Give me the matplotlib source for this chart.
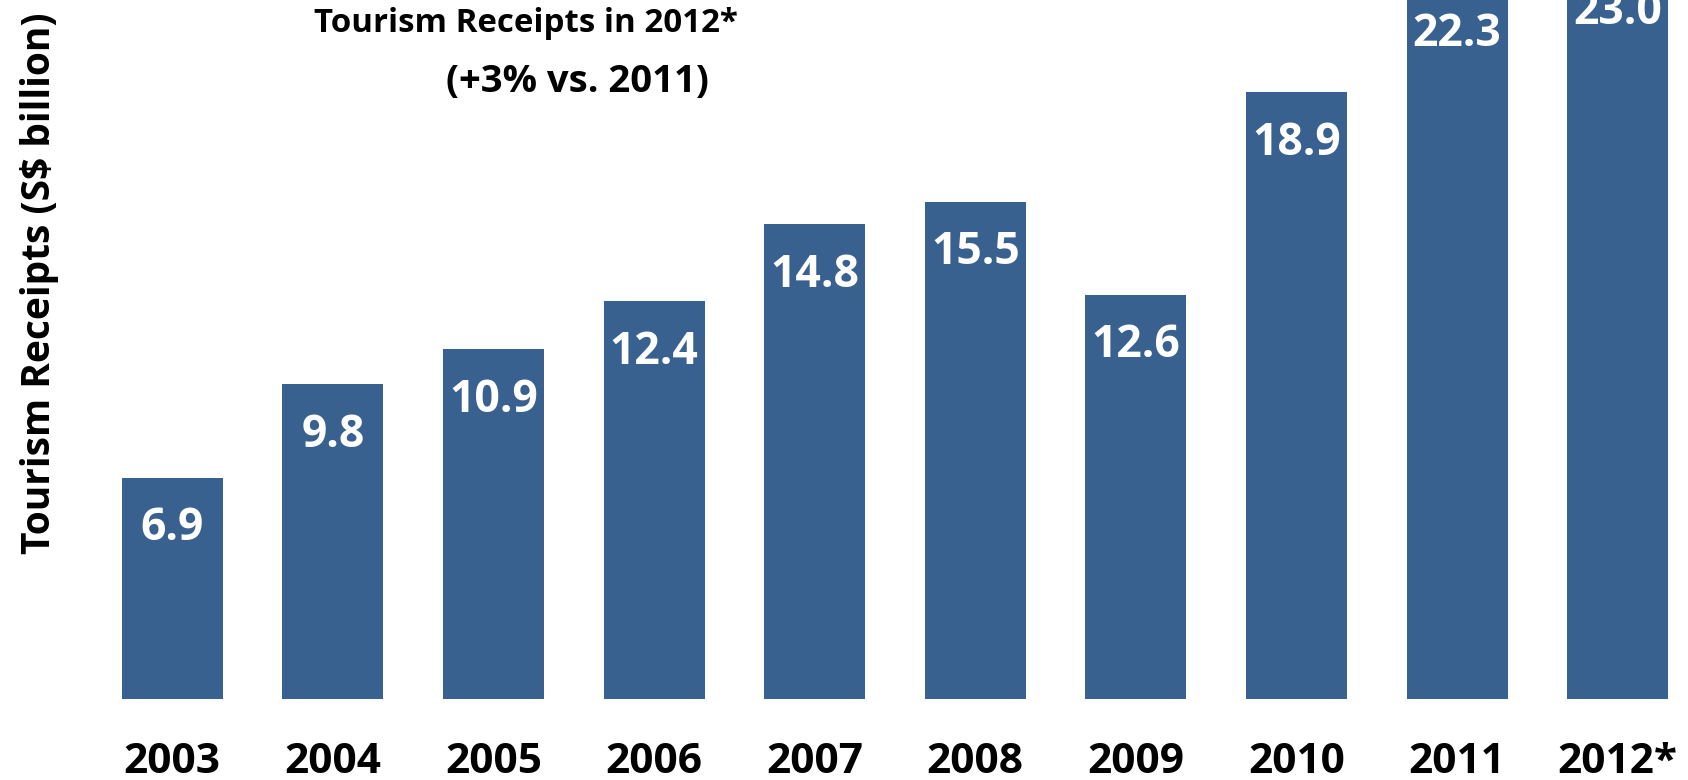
import numpy as np
import matplotlib
matplotlib.use('Agg')
import matplotlib.pyplot as plt

# data
years = ['2003', '2004', '2005', '2006', '2007', '2008', '2009', '2010', '2011', '2012*']
receipts = [6.9, 9.8, 10.9, 12.4, 14.8, 15.5, 12.6, 18.9, 22.3, 23.0]

plt.rcParams['font.family'] = ['Open Sans', 'DejaVu Sans']
plt.rcParams['font.weight'] = 'bold'

bar_color = '#386190'

fig = plt.figure(figsize=(16.88, 7.8), dpi=100)
ax = fig.add_axes([92 / 1688, 81 / 780, 1606 / 1688, 699 / 780])

x = np.arange(len(years))
ax.bar(x, receipts, width=0.63, color=bar_color)
ax.set_xlim(-0.5, 9.5)
ax.set_ylim(0, 21.78)

# value labels sit inside the top of each bar
for xi, v in zip(x, receipts):
    ax.text(xi, v - 1.6, f'{v:.1f}', ha='center', va='center',
            color='white', fontsize=32, fontweight='bold', clip_on=False)

ax.set_xticks(x)
ax.set_xticklabels(years, fontsize=30.5, fontweight='bold')
ax.tick_params(axis='x', length=0, pad=31)
ax.set_yticks([])
for s in ax.spines.values():
    s.set_visible(False)

fig.text(526 / 1688, 1 - 24 / 780, 'Tourism Receipts in 2012*', ha='center', va='center',
         fontsize=23.8, fontweight='bold')
fig.text(577 / 1688, 1 - 82 / 780, '(+3% vs. 2011)', ha='center', va='center',
         fontsize=27.5, fontweight='bold')
fig.text(40 / 1688, 1 - 283 / 780, 'Tourism Receipts (S$ billion)', ha='center', va='center',
         rotation=90, fontsize=28, fontweight='bold')

fig.savefig('out.png', dpi=100)
